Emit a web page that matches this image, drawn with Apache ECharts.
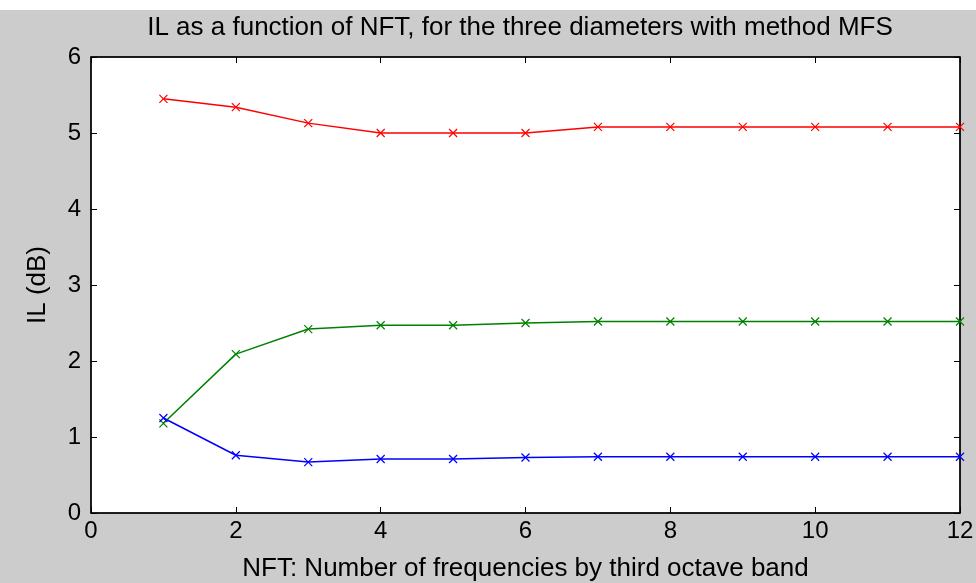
<!DOCTYPE html>
<html>
<head>
<meta charset="utf-8">
<script src="https://cdn.jsdelivr.net/npm/echarts@6/dist/echarts.min.js"></script>
<style>
  html, body { margin: 0; padding: 0; background: #fff; }
  #chart { width: 976px; height: 583px; }
</style>
</head>
<body>
<div id="chart"></div>
<script>
// NFT values (x) and IL (dB) for the three diameters
const nft = [1, 2, 3, 4, 5, 6, 7, 8, 9, 10, 11, 12];
const ilRed = [5.45, 5.34, 5.13, 5.00, 5.00, 5.00, 5.08, 5.08, 5.08, 5.08, 5.08, 5.08];
const ilGreen = [1.18, 2.09, 2.42, 2.47, 2.47, 2.50, 2.52, 2.52, 2.52, 2.52, 2.52, 2.52];
const ilBlue = [1.25, 0.76, 0.67, 0.71, 0.71, 0.73, 0.74, 0.74, 0.74, 0.74, 0.74, 0.74];

const font = 'Liberation Sans, Arial, sans-serif';
const crossMark = 'path://M0,0L10,10M10,0L0,10';

const chart = echarts.init(document.getElementById('chart'));

function mkSeries(name, values, color) {
    return {
        name: name,
        type: 'line',
        data: nft.map((x, i) => [x, values[i]]),
        symbol: crossMark,
        symbolSize: 8,
        showAllSymbol: true,
        lineStyle: { color: color, width: 1.5 },
        itemStyle: { color: 'none', borderColor: color, borderWidth: 1.2 },
        emphasis: { disabled: true },
        animation: false
    };
}

const tickStyle = { show: true, inside: true, length: 6, lineStyle: { color: '#000', width: 1 } };

chart.setOption({
    backgroundColor: '#cccccc',
    animation: false,
    graphic: [
        { type: 'rect', shape: { x: 0, y: 0, width: 976, height: 10 }, style: { fill: '#fff' }, silent: true },
        {
            type: 'text', x: 520, y: 28, silent: true,
            style: {
                text: 'IL as a function of NFT, for the three diameters with method MFS',
                font: '26px ' + font, fill: '#000',
                textAlign: 'center', textVerticalAlign: 'middle'
            }
        }
    ],
    grid: {
        left: 91, right: 16, top: 57, bottom: 70,
        outerBoundsMode: 'none',
        show: true, backgroundColor: '#fff', borderColor: '#000', borderWidth: 1
    },
    xAxis: [
        {
            type: 'value', min: 0, max: 12, interval: 2,
            name: 'NFT: Number of frequencies by third octave band',
            nameLocation: 'middle', nameGap: 43,
            nameTextStyle: { fontFamily: font, fontSize: 26, color: '#000' },
            axisLine: { show: true, onZero: false, lineStyle: { color: '#000', width: 1.5 } },
            axisTick: tickStyle,
            axisLabel: { fontFamily: font, fontSize: 24, color: '#000', margin: 6 },
            splitLine: { show: false }
        },
        {
            type: 'value', min: 0, max: 12, interval: 2, position: 'top',
            axisLine: { show: true, onZero: false, lineStyle: { color: '#000', width: 1.5 } },
            axisTick: tickStyle,
            axisLabel: { show: false },
            splitLine: { show: false }
        }
    ],
    yAxis: [
        {
            type: 'value', min: 0, max: 6, interval: 1,
            name: 'IL (dB)',
            nameLocation: 'middle', nameGap: 40,
            nameTextStyle: { fontFamily: font, fontSize: 26, color: '#000' },
            axisLine: { show: true, onZero: false, lineStyle: { color: '#000', width: 1.5 } },
            axisTick: tickStyle,
            axisLabel: { fontFamily: font, fontSize: 24, color: '#000', margin: 10 },
            splitLine: { show: false }
        },
        {
            type: 'value', min: 0, max: 6, interval: 1, position: 'right',
            axisLine: { show: true, onZero: false, lineStyle: { color: '#000', width: 1.5 } },
            axisTick: tickStyle,
            axisLabel: { show: false },
            splitLine: { show: false }
        }
    ],
    series: [
        mkSeries('Red', ilRed, '#ff0000'),
        mkSeries('Green', ilGreen, '#008000'),
        mkSeries('Blue', ilBlue, '#0000ff')
    ]
});
window.addEventListener('resize', () => chart.resize());
</script>
</body>
</html>
